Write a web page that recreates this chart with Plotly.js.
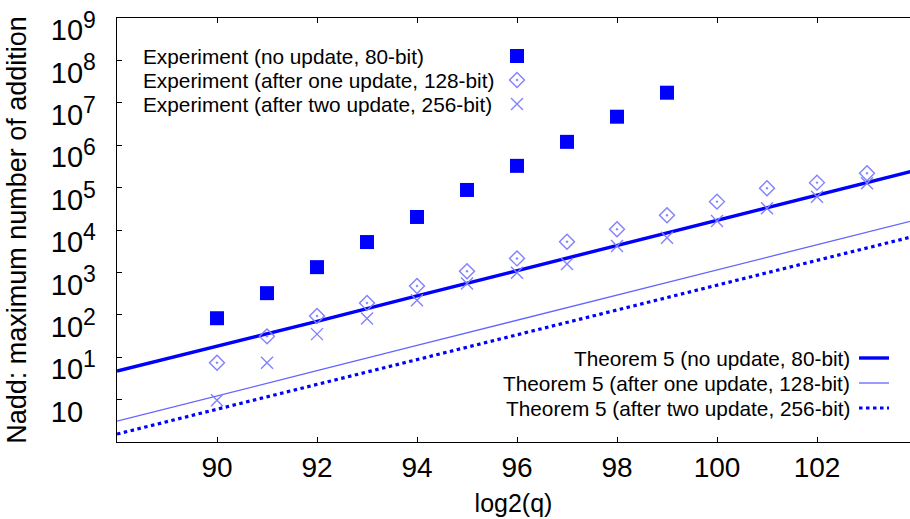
<!DOCTYPE html>
<html><head><meta charset="utf-8">
<script src="https://cdn.plot.ly/plotly-3.0.1.min.js"></script>
<style>html,body{margin:0;padding:0;background:#fff}#chart{width:910px;height:519px}</style>
</head><body><div id="chart"></div>
<script>
// ---- data ----
const xNoUpdate = [90, 91, 92, 93, 94, 95, 96, 97, 98, 99];
const nNoUpdate = [83, 324, 1330, 5200, 20300, 88000, 326000, 1200000, 4700000, 17300000];

const xUpdates = [90, 91, 92, 93, 94, 95, 96, 97, 98, 99, 100, 101, 102, 103];
const nOneUpdate = [7.4, 31, 94, 191, 480, 1070, 2140, 5280, 10400, 22300, 46700, 96800, 131000, 219000];
const nTwoUpdate = [0.96, 7.4, 35, 82, 221, 550, 977, 1570, 4190, 6580, 16300, 32600, 61200, 127000];

const xTheorem = [88, 90, 92, 94, 96, 98, 100, 102, 104];
const thNoUpdate = [4.7, 18, 70, 280, 1100, 4300, 17000, 66000, 260000];
const thOneUpdate = [0.31, 1.2, 4.8, 19, 75, 290, 1150, 4500, 17600];
const thTwoUpdate = [0.154, 0.59, 2.3, 8.8, 34, 130, 500, 1900, 7400];

const xTickVals = [90, 92, 94, 96, 98, 100, 102];
const yTickVals = [1, 10, 100, 1e3, 1e4, 1e5, 1e6, 1e7, 1e8, 1e9];
const yTickBase = ['10', '10', '10', '10', '10', '10', '10', '10', '10', '10'];
const yTickExp = ['', '1', '2', '3', '4', '5', '6', '7', '8', '9'];

const expLabels = ['Experiment (no update, 80-bit)',
  'Experiment (after one update, 128-bit)',
  'Experiment (after two update, 256-bit)'];
const thLabels = ['Theorem 5 (no update, 80-bit)',
  'Theorem 5 (after one update, 128-bit)',
  'Theorem 5 (after two update, 256-bit)'];

// ---- styles ----
const FONT = 'Liberation Sans, Arial, Helvetica, sans-serif';
const BLUE = '#0000ff';
const LIGHT = '#8080ff';
const THIN = '#6464ff';
const sqMarker = {symbol: 'square', size: 14, color: BLUE};
const diaMarker = {symbol: 'diamond-open-dot', size: 11.5, color: LIGHT, line: {color: LIGHT, width: 1.4}};
const xMarker = {symbol: 'x-thin-open', size: 12, color: LIGHT, line: {color: LIGHT, width: 1.4}};
const thickLine = {color: BLUE, width: 3.4};
const thinLine = {color: THIN, width: 1.3};
const dotLine = {color: BLUE, width: 3.2, dash: '3.5px,3.5px'};

// tick text: exponent drawn as a superscript; the plain "10" keeps an invisible one for left alignment
const yTickText = yTickBase.map((b, i) => yTickExp[i]
  ? b + '<sup><span style="font-size:23px">' + yTickExp[i] + '</span></sup>'
  : b + '<sup><span style="font-size:23px;color:rgba(0,0,0,0)">1</span></sup>');

// plot area: x 117..910, y 18..442
const L = 117, R = 910, T = 18, B = 442;
const fx = px => (px - L) / (R - L);
const fy = py => (B - py) / (B - T);

const traces = [
  {x: xTheorem, y: thOneUpdate, mode: 'lines', line: thinLine},
  {x: xTheorem, y: thTwoUpdate, mode: 'lines', line: dotLine},
  {x: xTheorem, y: thNoUpdate, mode: 'lines', line: thickLine},
  {x: xNoUpdate, y: nNoUpdate, mode: 'markers', marker: sqMarker},
  {x: xUpdates, y: nOneUpdate, mode: 'markers', marker: diaMarker},
  {x: xUpdates, y: nTwoUpdate, mode: 'markers', marker: xMarker},
  // legend symbol samples
  {x: [fx(517)], y: [fy(56)], xaxis: 'x2', yaxis: 'y2', mode: 'markers', marker: sqMarker, cliponaxis: false},
  {x: [fx(517)], y: [fy(80)], xaxis: 'x2', yaxis: 'y2', mode: 'markers', marker: diaMarker, cliponaxis: false},
  {x: [fx(517)], y: [fy(104)], xaxis: 'x2', yaxis: 'y2', mode: 'markers', marker: xMarker, cliponaxis: false}
];

const expY = [56, 80, 104];
const thY = [358, 383, 408];
const annotations = [];
expLabels.forEach((t, i) => annotations.push({
  text: t, xref: 'paper', yref: 'paper', x: fx(141), y: fy(expY[i]),
  xanchor: 'left', yanchor: 'middle', showarrow: false, font: {family: FONT, size: 20.8, color: '#000'}
}));
thLabels.forEach((t, i) => annotations.push({
  text: t, xref: 'paper', yref: 'paper', x: fx(852), y: fy(thY[i]),
  xanchor: 'right', yanchor: 'middle', showarrow: false, font: {family: FONT, size: 20.8, color: '#000'}
}));
const sampleStyles = [thickLine, thinLine, dotLine];
const shapes = thY.map((py, i) => ({
  type: 'line', xref: 'paper', yref: 'paper', x0: fx(859), x1: fx(889), y0: fy(py), y1: fy(py),
  line: sampleStyles[i]
}));

const layout = {
  width: 910, height: 519,
  margin: {l: L, r: 910 - R, t: T, b: 519 - B},
  paper_bgcolor: '#fff', plot_bgcolor: '#fff',
  showlegend: false,
  font: {family: FONT, color: '#000'},
  xaxis: {
    range: [88, 88 + (R - L) / 50], tickvals: xTickVals,
    ticks: 'inside', ticklen: 5, tickcolor: '#000', tickwidth: 1,
    showline: true, linecolor: '#000', linewidth: 1.3, mirror: 'ticks',
    showgrid: false, zeroline: false,
    tickfont: {family: FONT, size: 28, color: '#000'},
    title: {text: 'log2(q)', font: {family: FONT, size: 25, color: '#000'}, standoff: 12}
  },
  yaxis: {
    type: 'log', range: [-1, 9.0002], tickvals: yTickVals, ticktext: yTickText,
    ticks: 'inside', ticklen: 5, tickcolor: '#000', tickwidth: 1,
    showline: true, linecolor: '#000', linewidth: 1.3,
    showgrid: false, zeroline: false,
    ticklabelshift: 12, ticklabelstandoff: 14,
    tickfont: {family: FONT, size: 29, color: '#000'},
    title: {text: 'Nadd: maximum number of addition', font: {family: FONT, size: 27, color: '#000'}, standoff: 16}
  },
  xaxis2: {overlaying: 'x', range: [0, 1], visible: false, anchor: 'y2'},
  yaxis2: {overlaying: 'y', range: [0, 1], visible: false, anchor: 'x2'},
  annotations: annotations,
  shapes: shapes
};

Plotly.newPlot('chart', traces, layout, {displayModeBar: false, staticPlot: true});
</script>
</body></html>
